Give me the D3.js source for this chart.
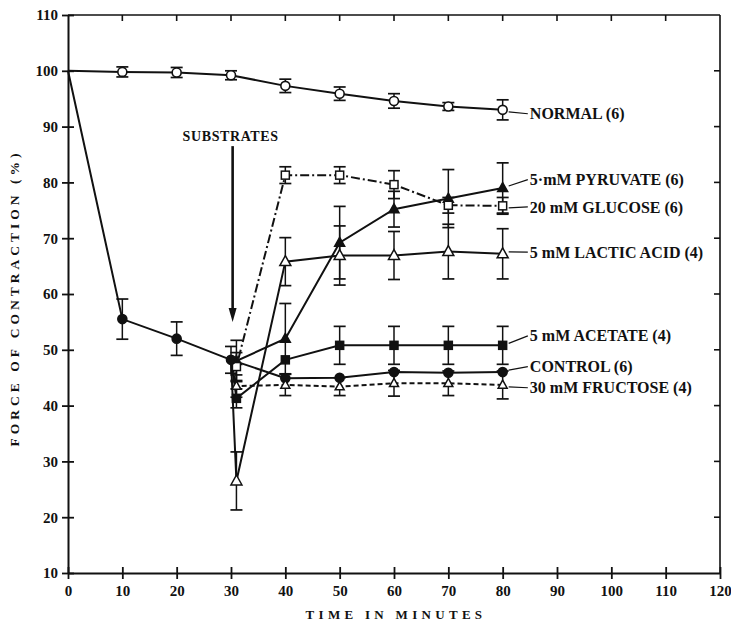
<!DOCTYPE html>
<html>
<head>
<meta charset="utf-8">
<script src="https://cdn.jsdelivr.net/npm/d3@7"></script>
<style>
  html, body { margin: 0; padding: 0; background: #fff; }
  svg { display: block; }
  text { font-family: "Liberation Serif", "DejaVu Serif", serif; fill: #111; }
</style>
</head>
<body>
<script>
// ---------------- DATA ----------------
const xTicks = [0, 10, 20, 30, 40, 50, 60, 70, 80, 90, 100, 110, 120];
const yTicks = [10, 20, 30, 40, 50, 60, 70, 80, 90, 100, 110];

const baseTime = [0, 10, 20, 30, 40, 50, 60, 70, 80];
const normalVal = [100, 99.8, 99.7, 99.2, 97.3, 95.9, 94.6, 93.6, 93.0];
const normalErr = [0, 0.9, 0.9, 0.8, 1.2, 1.2, 1.3, 0.7, 1.8];
const controlVal = [100, 55.5, 52.0, 48.2, 44.9, 45.0, 46.0, 45.9, 46.0];
const controlErr = [0, 3.6, 3.0, 2.4, 0, 0, 0, 0, 0];

const subTime = [31, 40, 50, 60, 70, 80];
const pyruvateVal = [48.0, 52.0, 69.2, 75.2, 77.1, 79.0];
const pyruvateErr = [3.7, 6.3, 6.5, 3.2, 5.2, 4.5];
const glucoseVal = [47.0, 81.3, 81.3, 79.6, 75.9, 75.8];
const glucoseErr = [2.5, 1.5, 1.5, 2.5, 1.4, 1.5];
const lacticVal = [26.5, 65.8, 66.9, 66.9, 67.6, 67.2];
const lacticErr = [5.2, 4.3, 5.3, 4.3, 4.9, 4.5];
const acetateVal = [41.3, 48.2, 50.8, 50.8, 50.8, 50.8];
const acetateErr = [1.7, 0, 3.4, 3.4, 3.4, 3.4];
const fructoseVal = [43.5, 43.7, 43.4, 44.0, 44.0, 43.7];
const fructoseErr = [2.0, 1.9, 1.6, 2.3, 2.2, 2.5];

const seriesNames = ["NORMAL (6)", "5·mM PYRUVATE (6)", "20 mM GLUCOSE (6)", "5 mM LACTIC ACID (4)",
                     "5 mM ACETATE (4)", "CONTROL (6)", "30 mM FRUCTOSE (4)"];
const labelVal = [92.3, 80.5, 75.6, 67.5, 52.5, 47.0, 43.2];

const xTitle = "TIME IN MINUTES";
const yTitle = "FORCE OF CONTRACTION (%)";
const arrowText = "SUBSTRATES";
const arrowTime = 30.3;
const arrowFrom = 86.5, arrowTo = 55.0;

// ---------------- LAYOUT ----------------
const W = 731, H = 628;
const L = 68, R = 720, T = 15, B = 573;
const x = d3.scaleLinear().domain([0, 120]).range([L, R]);
const y = d3.scaleLinear().domain([10, 110]).range([B, T]);

const svg = d3.select("body").append("svg").attr("width", W).attr("height", H);

// Frame / axes
const axisW = 2;
svg.append("line").attr("x1", L).attr("x2", R).attr("y1", T).attr("y2", T).attr("stroke", "#111").attr("stroke-width", 1.6);
svg.append("line").attr("x1", R).attr("x2", R).attr("y1", T).attr("y2", B).attr("stroke", "#111").attr("stroke-width", 1.6);

const gx = svg.append("g").attr("transform", `translate(0,${B})`)
  .call(d3.axisBottom(x).tickValues(xTicks).tickSize(6).tickSizeOuter(0).tickFormat(d3.format("d")));
const gy = svg.append("g").attr("transform", `translate(${L},0)`)
  .call(d3.axisLeft(y).tickValues(yTicks).tickSize(6).tickSizeOuter(0).tickFormat(d3.format("d")));
[gx, gy].forEach(g => {
  g.select(".domain").attr("stroke", "#111").attr("stroke-width", axisW);
  g.selectAll(".tick line").attr("stroke", "#111").attr("stroke-width", 1.8);
  g.selectAll("text").attr("font-family", "Liberation Serif, serif").attr("font-size", 15)
    .attr("font-weight", "bold").attr("fill", "#111");
});
gx.selectAll(".tick line").attr("y1", -6).attr("y2", 6);
gx.selectAll(".tick text").attr("y", 12);
gy.selectAll(".tick line").attr("x1", 6).attr("x2", -6);
gy.selectAll(".tick text").attr("x", -10);

// Top inward ticks
svg.append("g").selectAll("line").data(xTicks.slice(1, -1)).join("line")
  .attr("x1", d => x(d)).attr("x2", d => x(d)).attr("y1", T).attr("y2", T + 6)
  .attr("stroke", "#111").attr("stroke-width", 1.6);
// Right inward ticks
svg.append("g").selectAll("line").data(yTicks.slice(1, -1)).join("line")
  .attr("x1", R).attr("x2", R - 6).attr("y1", d => y(d)).attr("y2", d => y(d))
  .attr("stroke", "#111").attr("stroke-width", 1.6);

// Titles
svg.append("text").attr("x", (x(0) + x(120)) / 2 + 2).attr("y", 619).attr("text-anchor", "middle")
  .attr("font-size", 13).attr("font-weight", "bold").attr("letter-spacing", "4.3px").text(xTitle);
svg.append("text").attr("transform", `translate(19,${(T + B) / 2 + 4}) rotate(-90)`).attr("text-anchor", "middle")
  .attr("font-size", 13.5).attr("font-weight", "bold").attr("letter-spacing", "4px").text(yTitle);

// ---------------- SERIES ----------------
const mk = (ts, vs, es) => ts.map((t, i) => ({ t, v: vs[i], e: es[i] }));
const ctrl30 = { t: 30, v: controlVal[3], e: 0 };

const series = [
  { pts: mk(baseTime, normalVal, normalErr), lead: [], marker: "circle", fill: "#fff", dash: null },
  { pts: mk(subTime, pyruvateVal, pyruvateErr), lead: [ctrl30], marker: "triangle", fill: "#111", dash: null, size: 10 },
  { pts: mk(subTime, glucoseVal, glucoseErr), lead: [ctrl30], marker: "square", fill: "#fff", dash: "9,3,2,3" },
  { pts: mk(subTime, lacticVal, lacticErr), lead: [ctrl30], marker: "triangle", fill: "#fff", dash: null, size: 11 },
  { pts: mk(subTime, acetateVal, acetateErr), lead: [ctrl30], marker: "square", fill: "#111", dash: null },
  { pts: mk(baseTime, controlVal, controlErr), lead: [], marker: "circle", fill: "#111", dash: null },
  { pts: mk(subTime, fructoseVal, fructoseErr), lead: [ctrl30], marker: "triangle", fill: "#fff", dash: "5,3", size: 9 }
];

const line = d3.line().x(d => x(d.t)).y(d => y(d.v));
const gLines = svg.append("g"), gErr = svg.append("g"), gMk = svg.append("g"), gLab = svg.append("g");

series.forEach((s, si) => {
  gLines.append("path").datum(s.lead.concat(s.pts)).attr("d", line)
    .attr("fill", "none").attr("stroke", "#111").attr("stroke-width", 2)
    .attr("stroke-dasharray", s.dash);
  s.pts.filter(d => d.e > 0).forEach(d => {
    const cx = x(d.t), y1 = y(d.v + d.e), y2 = y(d.v - d.e);
    gErr.append("line").attr("x1", cx).attr("x2", cx).attr("y1", y1).attr("y2", y2).attr("stroke", "#111").attr("stroke-width", 1.5);
    [y1, y2].forEach(yy => gErr.append("line").attr("x1", cx - 6).attr("x2", cx + 6).attr("y1", yy).attr("y2", yy)
      .attr("stroke", "#111").attr("stroke-width", 1.7));
  });
  const pts = s.pts.filter(d => d.t > 0);
  pts.forEach(d => {
    const cx = x(d.t), cy = y(d.v);
    if (s.marker === "circle") {
      gMk.append("circle").attr("cx", cx).attr("cy", cy).attr("r", 4.5).attr("fill", s.fill).attr("stroke", "#111").attr("stroke-width", 1.6);
    } else if (s.marker === "square") {
      gMk.append("rect").attr("x", cx - 4).attr("y", cy - 4).attr("width", 8).attr("height", 8).attr("fill", s.fill).attr("stroke", "#111").attr("stroke-width", 1.5);
    } else {
      const sz = s.size;
      const h = sz * 0.9;
      gMk.append("path").attr("d", `M${cx},${cy - h * 0.6}L${cx + sz / 2},${cy + h * 0.4}L${cx - sz / 2},${cy + h * 0.4}Z`)
        .attr("fill", s.fill).attr("stroke", "#111").attr("stroke-width", 1.5);
    }
  });
  // label with leader
  const last = s.pts[s.pts.length - 1];
  const lx = x(85) - 1, ly = y(labelVal[si]);
  gLab.append("line").attr("x1", x(last.t) + 6).attr("y1", y(last.v) + (ly > y(last.v) ? 2 : -2))
    .attr("x2", lx - 1).attr("y2", ly).attr("stroke", "#111").attr("stroke-width", 1.2);
  gLab.append("text").attr("x", lx + 1).attr("y", ly).attr("dy", "0.35em")
    .attr("font-size", 16).attr("font-weight", "bold").text(seriesNames[si]);
});

// Substrates arrow
const ax = x(arrowTime);
svg.append("text").attr("x", ax - 2).attr("y", y(arrowFrom) - 5).attr("text-anchor", "middle")
  .attr("font-size", 14).attr("font-weight", "bold").attr("letter-spacing", "0.6px").text(arrowText);
svg.append("line").attr("x1", ax).attr("x2", ax).attr("y1", y(arrowFrom)).attr("y2", y(arrowTo) - 10)
  .attr("stroke", "#111").attr("stroke-width", 2.6);
svg.append("path").attr("d", `M${ax - 4},${y(arrowTo) - 14}L${ax + 4},${y(arrowTo) - 14}L${ax},${y(arrowTo)}Z`).attr("fill", "#111");
</script>
</body>
</html>
